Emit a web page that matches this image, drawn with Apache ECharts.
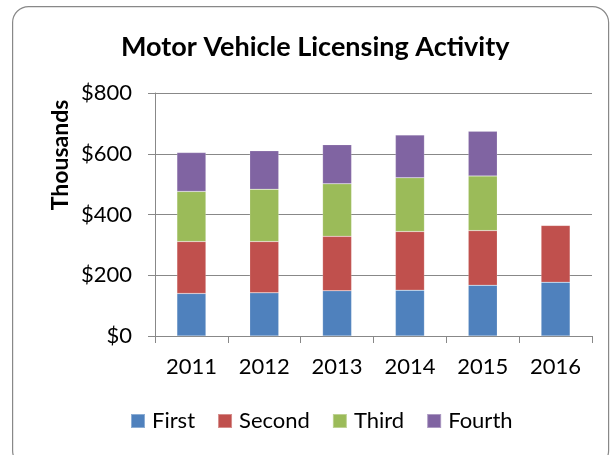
<!DOCTYPE html>
<html>
<head>
<meta charset="utf-8">
<script src="https://cdn.jsdelivr.net/npm/echarts@6/dist/echarts.min.js"></script>
<style>html,body{margin:0;padding:0;background:#fff}#c{width:613px;height:455px}</style>
</head>
<body>
<div id="c"></div>
<script>
const categories = ['2011', '2012', '2013', '2014', '2015', '2016'];
const first  = [140, 142, 149, 151, 167, 177];
const second = [171, 169, 179, 193, 180, 187];
const third  = [165, 172, 173, 177, 180, null];
const fourth = [128, 127, 129, 141, 147, null];
const yTicks = [0, 200, 400, 600, 800];

const FONT = 'Lato, "Open Sans", sans-serif';
const chart = echarts.init(document.getElementById('c'));
function mk(name, data, color) {
  return { name, type: 'bar', stack: 'q', data, barWidth: 29,
    itemStyle: { color, borderColor: 'rgba(255,255,255,0.35)', borderWidth: 0.5 } };
}
chart.setOption({
  animation: false,
  graphic: [
    { type: 'rect', left: 12, top: 6, shape: { width: 596, height: 460, r: 16 },
      style: { fill: '#fff', stroke: '#888', lineWidth: 1.2 }, z: -10 },
    { type: 'text', x: 61, y: 155, rotation: Math.PI / 2,
      style: { text: 'Thousands', font: 'bold 23px ' + FONT, fill: '#000', textAlign: 'center', textVerticalAlign: 'middle' } }
  ],
  title: { text: 'Motor Vehicle Licensing Activity', left: 116, top: 29,
    textStyle: { fontFamily: FONT, fontSize: 27, fontWeight: 'bold', color: '#000' } },
  legend: { top: 405, left: 125, itemWidth: 14, itemHeight: 14, itemGap: 22,
    icon: 'rect', textStyle: { fontFamily: FONT, fontSize: 22, color: '#000', padding: [0, 0, 0, 2] } },
  grid: { left: 155, right: 21, top: 93, bottom: 119 },
  xAxis: { type: 'category', data: categories,
    axisLine: { lineStyle: { color: '#888' } },
    axisTick: { show: true, length: 7, lineStyle: { color: '#888' } },
    axisLabel: { margin: 20, fontFamily: FONT, fontSize: 22, color: '#000' } },
  yAxis: { type: 'value', min: yTicks[0], max: yTicks[yTicks.length - 1], interval: 200,
    axisLine: { show: true, lineStyle: { color: '#888' } },
    axisTick: { show: true, length: 7, lineStyle: { color: '#888' } },
    splitLine: { lineStyle: { color: '#888' } },
    axisLabel: { margin: 23, fontFamily: FONT, fontSize: 22, color: '#000', formatter: v => '$' + v } },
  series: [
    mk('First', first, '#4F81BD'),
    mk('Second', second, '#C0504D'),
    mk('Third', third, '#9BBB59'),
    mk('Fourth', fourth, '#8064A2')
  ]
});
</script>
</body>
</html>
